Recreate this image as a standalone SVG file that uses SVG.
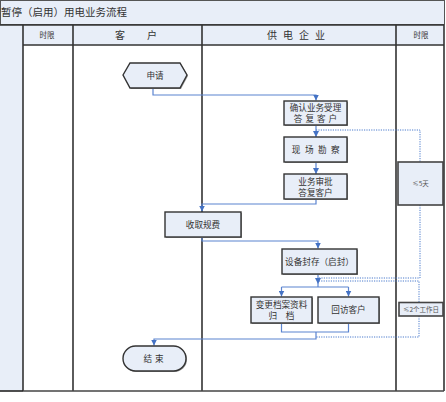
<svg xmlns="http://www.w3.org/2000/svg" width="446" height="402" viewBox="0 0 446 402">
<style>
  text { font-family: "Noto Sans CJK SC", "Liberation Sans", sans-serif; fill: #333; }
  .frame { fill: none; stroke: #333; stroke-width: 1.5; }
  .lane { stroke: #333; stroke-width: 1.6; }
  .box { fill: #e8eef8; stroke: #333; stroke-width: 1.4; }
  .shadow { fill: #999; }
  .t9 { font-size: 8.6px; text-anchor: middle; }
  .t7 { font-size: 6.5px; text-anchor: middle; fill: #555; }
  .conn { fill: none; stroke: #5b84d0; stroke-width: 1.2; }
  .dot { fill: none; stroke: #4a7acc; stroke-width: 1; stroke-dasharray: 1.2 1.2; }
</style>
<defs>
  <marker id="arr" viewBox="0 0 10 10" refX="10" refY="5" markerWidth="5" markerHeight="5" orient="auto">
    <path d="M0,0 L10,5 L0,10 z" fill="#4472c4"/>
  </marker>
</defs>
<rect width="446" height="402" fill="#fff"/>
<g id="frame">
  <rect x="0.5" y="0.5" width="444" height="24" fill="#e8eef8" stroke="#555" stroke-width="1"/>
  <text x="1" y="16" style="font-size:10.5px">暂停（启用）用电业务流程</text>
  <rect x="0" y="25" width="23" height="366" fill="#e8eef8"/>
  <rect x="23" y="25" width="421" height="20" fill="#e8eef8"/>
  <line class="lane" x1="23" y1="45" x2="444" y2="45"/>
  <line class="lane" x1="0" y1="25" x2="444" y2="25"/>
  <line class="lane" x1="23" y1="25" x2="23" y2="391"/>
  <line class="lane" x1="73" y1="25" x2="73" y2="391"/>
  <line class="lane" x1="202" y1="25" x2="202" y2="391"/>
  <line class="lane" x1="396" y1="25" x2="396" y2="391"/>
  <line class="lane" x1="444" y1="25" x2="444" y2="391"/>
  <line x1="0" y1="391" x2="23" y2="391" stroke="#222" stroke-width="1.6"/>
  <line x1="23" y1="391" x2="444" y2="391" stroke="#444" stroke-width="1.4"/>
  <text x="47" y="38" style="font-size:7.5px;text-anchor:middle">时限</text>
  <text x="115" y="39" style="font-size:10px">客</text>
  <text x="147" y="39" style="font-size:10px">户</text>
  <text x="267" y="39" style="font-size:10px;letter-spacing:6px">供电企业</text>
  <text x="421" y="38" style="font-size:7.5px;text-anchor:middle">时限</text>
</g>
<g id="connectors">
  <path class="conn" d="M153,88 V95 H316 V100.5" marker-end="url(#arr)"/>
  <path class="conn" d="M316,125 V137" marker-end="url(#arr)"/>
  <path class="conn" d="M316,162 V174" marker-end="url(#arr)"/>
  <path class="conn" d="M316,199 V204 H202 V211.5" marker-end="url(#arr)"/>
  <path class="conn" d="M202,237 V241 H318 V248.5" marker-end="url(#arr)"/>
  <path class="conn" d="M318,274 V284" marker-end="url(#arr)"/>
  <path class="conn" d="M318,284 V287"/>
  <path class="conn" d="M281.5,287 H348.5"/>
  <path class="conn" d="M281.5,287 V296.5" marker-end="url(#arr)"/>
  <path class="conn" d="M348.5,287 V296.5" marker-end="url(#arr)"/>
  <path class="conn" d="M281.5,323 V332 H348.5 V323"/>
  <path class="conn" d="M316,332 V339 H154 V345.5" marker-end="url(#arr)"/>
  <path class="dot" d="M316,130 H420 V162"/>
  <path class="dot" d="M420,205 V278 H318"/>
  <path class="dot" d="M419,302 V281 H318"/>
  <path class="dot" d="M419,316 V337 H316"/>
</g>
<g id="n-apply">
  <path d="M124,76 L131,64 H181 L188,76 L181,89 H131 Z" class="shadow"/>
  <path d="M123,75 L130,63 H180 L187,75 L180,88 H130 Z" class="box"/>
  <text class="t9" x="155" y="78.5">申请</text>
</g>
<g id="n-confirm">
  <rect x="285" y="102" width="63" height="24" class="shadow"/>
  <rect x="284" y="101" width="63" height="24" class="box"/>
  <text class="t9" x="315.5" y="111">确认业务受理</text>
  <text class="t9" x="317" y="122" style="letter-spacing:3px">答复客户</text>
</g>
<g id="n-survey">
  <rect x="285" y="138" width="63" height="25" class="shadow"/>
  <rect x="284" y="137" width="63" height="25" class="box"/>
  <text class="t9" x="318" y="153" style="letter-spacing:4.5px">现场勘察</text>
</g>
<g id="n-approve">
  <rect x="285" y="175" width="63" height="25" class="shadow"/>
  <rect x="284" y="174" width="63" height="25" class="box"/>
  <text class="t9" x="315.5" y="184.5">业务审批</text>
  <text class="t9" x="315.5" y="195.5">答复客户</text>
</g>
<g id="n-fee">
  <rect x="166" y="213" width="76" height="25" class="shadow"/>
  <rect x="165" y="212" width="76" height="25" class="box"/>
  <text class="t9" x="203" y="227.5">收取规费</text>
</g>
<g id="n-seal">
  <rect x="283" y="250" width="75" height="25" class="shadow"/>
  <rect x="282" y="249" width="75" height="25" class="box"/>
  <text class="t9" x="319.5" y="264.5">设备封存（启封）</text>
</g>
<g id="n-archive">
  <rect x="252" y="298" width="61" height="26" class="shadow"/>
  <rect x="251" y="297" width="61" height="26" class="box"/>
  <text class="t9" x="281.5" y="307.5">变更档案资料</text>
  <text class="t9" x="281.5" y="319">归　档</text>
</g>
<g id="n-visit">
  <rect x="319" y="298" width="61" height="26" class="shadow"/>
  <rect x="318" y="297" width="61" height="26" class="box"/>
  <text class="t9" x="348.5" y="313">回访客户</text>
</g>
<g id="n-end">
  <rect x="124" y="347" width="63" height="25" rx="12.5" class="shadow"/>
  <rect x="123" y="346" width="63" height="25" rx="12.5" class="box"/>
  <text class="t9" x="155" y="361.5" style="letter-spacing:3px">结束</text>
</g>
<g id="n-t5">
  <rect x="398" y="162" width="45" height="43" fill="#e8eef8" stroke="#444" stroke-width="1.6"/>
  <text class="t7" x="420.5" y="186">≤5天</text>
</g>
<g id="n-t2">
  <rect x="399" y="302.5" width="44" height="13.5" fill="#e8eef8" stroke="#444" stroke-width="1.6"/>
  <text class="t7" x="421" y="311.5">≤2个工作日</text>
</g>
</svg>
